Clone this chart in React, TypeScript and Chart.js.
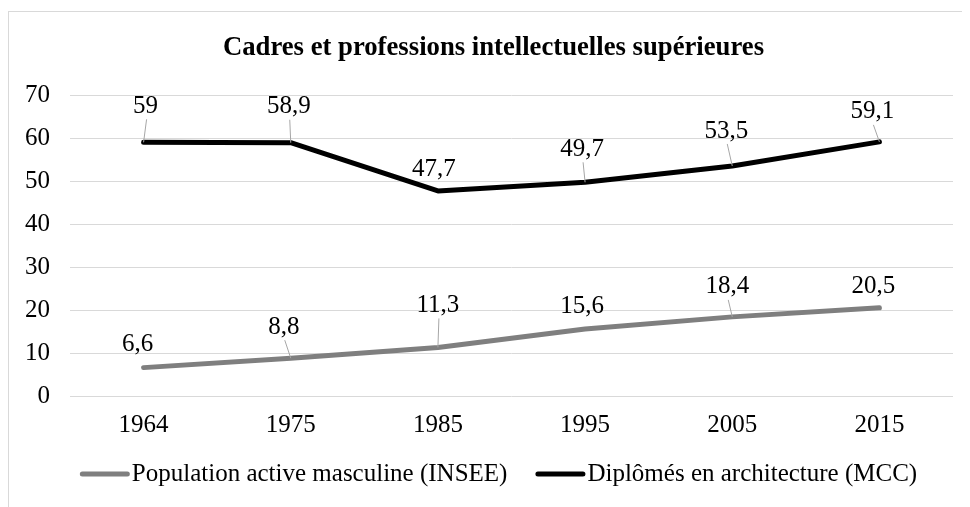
import React, { useEffect, useRef } from "react";
import { Chart, registerables } from "chart.js";

Chart.register(...registerables);

const categories = ["1964", "1975", "1985", "1995", "2005", "2015"];
const populationActive = [6.6, 8.8, 11.3, 15.6, 18.4, 20.5];
const diplomes = [59, 58.9, 47.7, 49.7, 53.5, 59.1];
const seriesNames = ["Population active masculine (INSEE)", "Diplômés en architecture (MCC)"];
const titleText = "Cadres et professions intellectuelles supérieures";

// manual label placements (pixel offsets from each point), as moved in the original
const labelOffsets = [
  [[-6, -23], [-7, -31], [0, -42], [-3, -22], [-5, -30], [-6, -21]],
  [[2, -36], [-2, -36], [-4, -21], [-3, -33], [-6, -35], [-7, -30]],
];

const FONT = "'Liberation Serif', 'Times New Roman', serif";
const FS = 25;

const fmt = (v: number) => String(v).replace(".", ",");

const titlePlugin = {
  id: "customTitle",
  afterDraw(chart: any) {
    const ctx = chart.ctx;
    ctx.save();
    ctx.font = `bold 26.7px ${FONT}`;
    ctx.fillStyle = "#000";
    ctx.textAlign = "center";
    ctx.textBaseline = "middle";
    ctx.fillText(titleText, chart.width / 2 + 4, 36);
    ctx.restore();
  },
};

const labelPlugin = {
  id: "dataLabels",
  afterDatasetsDraw(chart: any) {
    const ctx = chart.ctx;
    ctx.save();
    ctx.font = `${FS}px ${FONT}`;
    ctx.textAlign = "center";
    ctx.textBaseline = "middle";
    chart.data.datasets.forEach((ds: any, di: number) => {
      const meta = chart.getDatasetMeta(di);
      meta.data.forEach((pt: any, i: number) => {
        const [dx, dy] = labelOffsets[di][i];
        const lx = pt.x + dx;
        const ly = pt.y + dy;
        if (Math.abs(dy) > 25) {
          ctx.strokeStyle = "#a6a6a6";
          ctx.lineWidth = 1;
          ctx.beginPath();
          ctx.moveTo(lx + 1, ly + 13);
          ctx.lineTo(pt.x, pt.y);
          ctx.stroke();
        }
        ctx.fillStyle = "#000";
        ctx.fillText(fmt(ds.data[i]), lx, ly);
      });
    });
    ctx.restore();
  },
};

const legendPlugin = {
  id: "customLegend",
  afterDraw(chart: any) {
    const ctx = chart.ctx;
    ctx.save();
    ctx.font = `${FS}px ${FONT}`;
    ctx.textBaseline = "middle";
    ctx.textAlign = "left";
    const lineLen = 50;
    const gapLine = 2;
    const gapItems = 28;
    const items = chart.data.datasets.map((ds: any) => ({
      color: ds.borderColor,
      text: ds.label,
      w: ctx.measureText(ds.label).width,
    }));
    const total = items.reduce((s: number, it: any) => s + lineLen + gapLine + it.w, 0) + gapItems * (items.length - 1);
    let x = chart.width / 2 - total / 2 + 9;
    const y = 462;
    items.forEach((it: any) => {
      ctx.strokeStyle = it.color;
      ctx.lineWidth = 5;
      ctx.lineCap = "round";
      ctx.beginPath();
      ctx.moveTo(x + 2.5, y);
      ctx.lineTo(x + lineLen - 2.5, y);
      ctx.stroke();
      x += lineLen + gapLine;
      ctx.fillStyle = "#000";
      ctx.fillText(it.text, x, y);
      x += it.w + gapItems;
    });
    ctx.restore();
  },
};

export default function App() {
  const ref = useRef<HTMLCanvasElement>(null);
  useEffect(() => {
    if (!ref.current) return;
    const chart = new Chart(ref.current, {
      type: "line",
      data: {
        labels: categories,
        datasets: [
          {
            label: seriesNames[0],
            data: populationActive,
            borderColor: "#7f7f7f",
            backgroundColor: "#7f7f7f",
            borderWidth: 5,
            pointRadius: 0,
            borderCapStyle: "round",
            borderJoinStyle: "round",
            tension: 0,
          },
          {
            label: seriesNames[1],
            data: diplomes,
            borderColor: "#000000",
            backgroundColor: "#000000",
            borderWidth: 5,
            pointRadius: 0,
            borderCapStyle: "round",
            borderJoinStyle: "round",
            tension: 0,
          },
        ],
      },
      options: {
        animation: false,
        responsive: false,
        maintainAspectRatio: false,
        layout: { padding: { left: 0, right: 17, top: 83, bottom: 69 } },
        plugins: {
          legend: { display: false },
          tooltip: { enabled: false },
          title: { display: false },
        },
        scales: {
          x: {
            offset: true,
            afterFit(scale: any) {
              scale.height = 42;
            },
            grid: { display: false, drawTicks: false },
            border: { display: false },
            ticks: {
              color: "#000",
              font: { family: FONT, size: FS },
              padding: 14,
              maxRotation: 0,
            },
          },
          y: {
            min: 0,
            max: 70,
            afterFit(scale: any) {
              scale.width = 61;
            },
            grid: { color: "#d9d9d9", lineWidth: 1, drawTicks: false },
            border: { display: false },
            ticks: {
              stepSize: 10,
              color: "#000",
              font: { family: FONT, size: FS },
              padding: 20,
            },
          },
        },
      },
      plugins: [titlePlugin, labelPlugin, legendPlugin],
    });
    return () => chart.destroy();
  }, []);
  return (
    <div
      style={{
        marginTop: 3,
        width: 962,
        height: 496,
        borderTop: "1px solid #d9d9d9",
        borderLeft: "1px solid #d9d9d9",
        boxSizing: "border-box",
        background: "#fff",
      }}
    >
      <canvas ref={ref} width={961} height={495} style={{ display: "block" }} />
    </div>
  );
}
